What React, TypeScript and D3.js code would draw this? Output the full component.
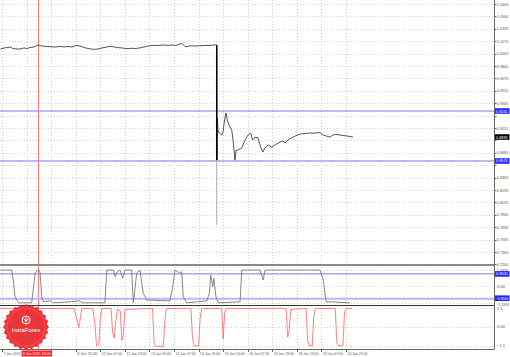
import React from 'react';
import * as d3 from 'd3';

const W = 510;
const H = 357;

// ---- data ----
const priceTicks = [1.0665, 1.05, 1.0335, 1.017, 1.0005, 0.984, 0.9675, 0.951, 0.9345, 0.918, 0.9015, 0.885, 0.8685, 0.852, 0.8355, 0.819, 0.8025, 0.786, 0.7695, 0.753, 0.7365, 0.72];
const timeTickBars = [1, 17, 33, 49, 65, 81, 97, 113, 129, 145, 161, 177, 193, 209, 225];
const timeLabels = ['7 Jan 2015', '8 Jan 07:00', '8 Jan 23:00', '9 Jan 15:00', '12 Jan 07:00', '12 Jan 23:00', '13 Jan 15:00', '14 Jan 07:00', '14 Jan 23:00', '15 Jan 15:00', '16 Jan 07:00', '16 Jan 23:00', '19 Jan 15:00', '20 Jan 07:00', '20 Jan 23:00'];

// close price line [bar, price]
const priceSeries: [number, number][] = [
  [0, 1.0066], [2.3, 1.008], [4.9, 1.0086], [6.2, 1.0093], [8.1, 1.0073], [10.7, 1.0066], [12.7, 1.0066], [15.3, 1.008], [17.3, 1.0073], [19.2, 1.0086], [21.8, 1.0093], [24.4, 1.012], [27.0, 1.0106], [29.6, 1.01], [32.2, 1.0097], [35.5, 1.0093], [38.7, 1.01], [41.4, 1.0093], [43.3, 1.01], [46.6, 1.0093], [49.2, 1.0113], [51.8, 1.0106], [54.4, 1.0086], [57.0, 1.0073], [60.2, 1.0062], [63.5, 1.0066], [66.1, 1.008], [69.4, 1.0093], [71.3, 1.0102], [73.3, 1.0097], [75.9, 1.0086], [79.1, 1.008], [82.4, 1.007], [85.0, 1.0076], [87.6, 1.0073], [90.8, 1.008], [93.4, 1.0093], [96.1, 1.0106], [99.3, 1.0115], [102.6, 1.0113], [105.8, 1.012], [109.1, 1.0115], [111.7, 1.012], [114.3, 1.0113], [116.9, 1.0133], [118.2, 1.0139], [120.1, 1.01], [121.4, 1.0097], [123.4, 1.0109], [126.7, 1.0106], [129.9, 1.0109], [133.2, 1.0113], [136.4, 1.0115], [139.7, 1.012], [140.7, 1.012],
  [141.0, 0.8589], [141.2, 0.9148], [141.6, 0.8988], [142.5, 0.8948], [144.1, 0.8922], [144.9, 0.8962], [145.9, 0.9121], [146.8, 0.9215], [147.7, 0.9121], [148.8, 0.9055], [149.8, 0.9015], [150.6, 0.8988], [151.4, 0.8855], [152.7, 0.8589], [153.4, 0.8722], [154.7, 0.8722], [157.1, 0.8749], [159.2, 0.8855], [161.2, 0.8922], [162.9, 0.8948], [164.2, 0.8855], [165.7, 0.8895], [167.7, 0.8882], [169.4, 0.8762], [170.9, 0.8696], [172.2, 0.8749], [174.2, 0.8789], [176.6, 0.8762], [178.8, 0.8789], [182.0, 0.8829], [184.0, 0.8842], [185.3, 0.8815], [187.2, 0.8855], [190.5, 0.8895], [195.0, 0.8935], [198.3, 0.8942], [201.5, 0.8948], [204.8, 0.8948], [208.1, 0.8953], [210.0, 0.8922], [212.0, 0.8909], [214.6, 0.8895], [216.5, 0.8922], [218.5, 0.8929], [221.1, 0.8922], [223.0, 0.8915], [225.4, 0.8909], [227.6, 0.8902], [229.5, 0.8895],
];
const crashBar = 140.8;
const crashLow = 0.7724;
const crashBottom = 0.8589;
const crashTop = 1.012;
const levelHigh = 0.9241;
const levelLow = 0.8576;
const lastPrice = 0.8895;
const cursorBar = 24.4;
const cursorLabel = '8 Jan 2015 15:00';

// indicator 1 [bar, value]
const ind1Series: [number, number][] = [
  [0, 1.18], [7.3, 1.18], [8.3, 0.46], [9.4, -0.75], [11.6, -1.19], [20.3, -1.19], [22.5, 0.94], [24.0, 1.18], [25.7, 1.06], [26.8, -0.75], [27.9, -1.12], [32.2, -1.05], [34.4, -1.19], [42.0, -1.14], [51.8, -1.05], [52.9, -1.19], [68.0, -1.19], [69.2, 1.18], [73.5, 1.18], [74.6, 0.7], [76.1, 1.06], [77.8, 1.18], [79.6, 0.58], [81.1, 1.18], [85.4, 1.18], [86.5, -1.19], [88.7, 0.94], [90.8, 1.18], [93.0, -0.51], [95.2, -0.99], [110.4, -1.05], [112.5, 0.22], [113.6, 1.18], [116.9, 0.94], [118.0, 1.06], [119.0, -0.75], [121.3, -1.19], [134.3, -1.05], [136.0, -0.51], [136.9, 0.82], [138.2, -0.03], [139.0, 0.58], [140.3, -0.75], [141.8, -1.19], [156.0, -1.12], [157.1, 1.18], [169.0, 1.18], [171.1, 0.46], [172.2, 1.18], [208.1, 1.18], [210.2, 0.46], [212.0, -1.12], [216.7, -1.12], [221.1, -1.16], [227.6, -1.19],
];
const ind1Ticks = [1.1836, 0, -1.1836];
const ind1Levels = [0.9, -0.9];

// indicator 2 [bar, value]
const ind2Series: [number, number][] = [
  [0, 1.06], [20, 1.05], [48, 1.06], [50, 0.3], [51, -0.05], [52, 0.5], [53, 1.05],
  [60, 1.06], [61.5, 0.2], [62.5, -1.1], [64, -1.05], [65, 0.4], [66, 1.05],
  [72, 1.06], [73, -0.3], [74, -0.65], [75, 0.2], [76, 1.0], [78, 0.9], [79, -0.8], [80, -0.5], [81, 1.0],
  [99, 1.06], [100, -0.9], [101, -1.15], [104, -1.12], [106, -1.15], [107, 0.3], [108, 1.05],
  [124, 1.06], [125, -0.6], [126, -1.1], [129, -1.12], [130, 0.5], [131, 1.05],
  [144, 1.06], [145, -0.7], [146, 0.8], [147, 1.05],
  [186, 1.06], [187, -0.6], [188, -0.2], [189, 1.0],
  [199, 1.06], [200, -0.8], [201, -1.1], [203, -1.1], [204, 0.6], [205, 1.05],
  [218, 1.06], [219, -0.9], [220, -1.1], [223, -1.1], [224, 0.8], [225, 1.05], [229, 1.06],
];
const ind2Ticks = [1.1, 0, -1.1];

// ---- layout ----
const AX = 494.5;
const MAIN_BOTTOM = 264;
const P1_TOP = 266;
const P1_BOTTOM = 305;
const P2_TOP = 306;
const P2_BOTTOM = 349;

const fmt4 = d3.format('.4f');
const FONT = 'Liberation Sans, Arial, sans-serif';
const FS = 4.2;

export default function App() {
  const x = d3.scaleLinear().domain([0, 320]).range([0.5, 0.5 + 320 * 1.5357]);
  const yMain = d3.scaleLinear().domain([0.72, 1.0665]).range([264.4, 4]);
  const y1 = d3.scaleLinear().domain([-1.1836, 1.1836]).range([302.7, 270]);
  const y2 = d3.scaleLinear().domain([-1.1, 1.1]).range([345.7, 307.7]);

  const lineMain = d3.line<[number, number]>().x(d => x(d[0])).y(d => yMain(d[1]));
  const line1 = d3.line<[number, number]>().x(d => x(d[0])).y(d => y1(d[1]));
  const line2 = d3.line<[number, number]>().x(d => x(d[0])).y(d => y2(d[1]));

  const gridColor = '#d2d2d2';
  const dash = '1,2';

  const cx = 26, cy = 327;
  const sealPts: [number, number][] = d3.range(48).map(i => {
    const a = (i / 48) * Math.PI * 2;
    const r = i % 2 === 0 ? 23 : 21;
    return [cx + r * Math.cos(a), cy + r * Math.sin(a)];
  });

  const lenFor = (s: string) => (s.length > 6 ? 12 : s.length > 4 ? 11.5 : undefined);

  const axText = (key: string, y: number, s: string, fill = '#555') => (
    <text key={key} x={AX + 2.3} y={y + 1.5} fontSize={FS} fill={fill} fontFamily={FONT} textLength={lenFor(s)} lengthAdjust="spacingAndGlyphs">{s}</text>
  );

  const boxLabel = (key: string, y: number, s: string, fill: string) => (
    <g key={key}>
      <rect x={AX + 0.5} y={y - 2.8} width={14.5} height={5.6} fill={fill} />
      <text x={AX + 1.6} y={y + 1.5} fontSize={FS} fill="#fff" fontFamily={FONT} textLength={lenFor(s)} lengthAdjust="spacingAndGlyphs">{s}</text>
    </g>
  );

  const cursorX = x(cursorBar);
  const boxL = cursorX - 16.5;
  const boxR = cursorX + 14;

  return (
    <svg width={W} height={H} style={{ position: 'absolute', left: 0, top: 0, background: '#fff' }}>
      <rect x={0} y={0} width={W} height={H} fill="#fff" />
      <defs>
        <clipPath id="cm"><rect x={0} y={0} width={AX} height={MAIN_BOTTOM} /></clipPath>
        <clipPath id="c1"><rect x={0} y={P1_TOP} width={AX} height={P1_BOTTOM - P1_TOP} /></clipPath>
        <clipPath id="c2"><rect x={0} y={P2_TOP} width={AX} height={P2_BOTTOM - P2_TOP} /></clipPath>
      </defs>

      {timeTickBars.map((b, i) => (
        <line key={'vg' + i} x1={Math.round(x(b)) + 0.5} x2={Math.round(x(b)) + 0.5} y1={0} y2={P2_BOTTOM} stroke={gridColor} strokeDasharray={dash} />
      ))}
      {priceTicks.map((t, i) => (
        <line key={'hg' + i} x1={0} x2={AX} y1={Math.round(yMain(t)) + 0.5} y2={Math.round(yMain(t)) + 0.5} stroke={gridColor} strokeDasharray={dash} />
      ))}
      {ind1Ticks.map((t, i) => (
        <line key={'g1' + i} x1={0} x2={AX} y1={Math.round(y1(t)) + 0.5} y2={Math.round(y1(t)) + 0.5} stroke={gridColor} strokeDasharray={dash} />
      ))}
      {ind2Ticks.map((t, i) => (
        <line key={'g2' + i} x1={0} x2={AX} y1={Math.round(y2(t)) + 0.5} y2={Math.round(y2(t)) + 0.5} stroke={gridColor} strokeDasharray={dash} />
      ))}

      <line x1={Math.round(cursorX) + 0.5} x2={Math.round(cursorX) + 0.5} y1={0} y2={P2_BOTTOM} stroke="#ff7a7a" strokeWidth={1} />

      <g clipPath="url(#cm)">
        <line x1={0} x2={AX} y1={yMain(levelHigh)} y2={yMain(levelHigh)} stroke="#7a7ae6" strokeWidth={1} />
        <line x1={0} x2={AX} y1={yMain(levelLow)} y2={yMain(levelLow)} stroke="#7a7ae6" strokeWidth={1} />
        <line x1={x(crashBar)} x2={x(crashBar)} y1={yMain(crashBottom)} y2={yMain(crashLow)} stroke="#888" strokeWidth={0.7} />
        <path d={lineMain(priceSeries) || ''} fill="none" stroke="#2a2a2a" strokeWidth={0.8} strokeLinejoin="round" />
        <line x1={x(crashBar)} x2={x(crashBar)} y1={yMain(crashTop)} y2={yMain(crashBottom)} stroke="#000" strokeWidth={1.5} />
      </g>

      <line x1={0} x2={AX} y1={265} y2={265} stroke="#8a8a8a" strokeWidth={2} />
      <line x1={0} x2={AX} y1={305.5} y2={305.5} stroke="#333" strokeWidth={1} />

      <g clipPath="url(#c1)">
        <line x1={0} x2={AX} y1={y1(ind1Levels[0])} y2={y1(ind1Levels[0])} stroke="#7a7ae6" strokeWidth={1} />
        <line x1={0} x2={AX} y1={y1(ind1Levels[1])} y2={y1(ind1Levels[1])} stroke="#b8b8f4" strokeWidth={2} />
        <path d={line1(ind1Series) || ''} fill="none" stroke="#6a6a6a" strokeWidth={0.8} />
      </g>

      <g clipPath="url(#c2)">
        <path d={line2(ind2Series) || ''} fill="none" stroke="#ff6060" strokeWidth={0.8} />
      </g>

      <line x1={AX} x2={AX} y1={0} y2={P2_BOTTOM} stroke="#666" strokeWidth={1} />
      <line x1={0} x2={AX} y1={P2_BOTTOM + 0.5} y2={P2_BOTTOM + 0.5} stroke="#666" strokeWidth={1} />

      {priceTicks.map((t, i) => {
        const yy = yMain(t);
        const hidden = [levelHigh, levelLow, lastPrice].some(v => Math.abs(yMain(v) - yy) < 5.2);
        return (
          <g key={'pt' + i}>
            <line x1={AX} x2={AX + 2} y1={Math.round(yy) + 0.5} y2={Math.round(yy) + 0.5} stroke="#666" />
            {!hidden && axText('ptt' + i, yy, fmt4(t))}
          </g>
        );
      })}
      {boxLabel('bh', yMain(levelHigh), fmt4(levelHigh), '#2424ff')}
      {boxLabel('bl', yMain(levelLow), fmt4(levelLow), '#2424ff')}
      {boxLabel('bp', yMain(lastPrice), fmt4(lastPrice), '#000')}

      {ind1Ticks.map((t, i) => axText('l1' + i, y1(t) + (i === 2 ? 1.3 : 0), t === 0 ? '0.00' : fmt4(t)))}
      {ind1Levels.map((t, i) => boxLabel('lv1' + i, y1(t) - (i === 1 ? 0.6 : 0), fmt4(t), '#2424ff'))}
      {ind2Ticks.map((t, i) => axText('l2' + i, y2(t) + (i === 0 ? 0.6 : 0), t === 0 ? '0.00' : d3.format('.1f')(t)))}

      {timeTickBars.map((b, i) => {
        const tx = x(b);
        const covered = tx > boxL && tx < boxR;
        return (
          <g key={'tl' + i}>
            <line x1={Math.round(tx) + 0.5} x2={Math.round(tx) + 0.5} y1={P2_BOTTOM} y2={P2_BOTTOM + 3} stroke="#666" />
            {!covered && (
              <text x={tx + 1.5} y={355} fontSize={FS} fill="#555" fontFamily={FONT} textLength={timeLabels[i].length > 10 ? 20 : 17} lengthAdjust="spacingAndGlyphs">{timeLabels[i]}</text>
            )}
          </g>
        );
      })}
      <rect x={boxL} y={350.5} width={boxR - boxL} height={6} fill="#ff2020" />
      <text x={boxL + 1.2} y={355.3} fontSize={FS} fill="#fff" fontFamily={FONT} textLength={boxR - boxL - 2.4} lengthAdjust="spacingAndGlyphs">{cursorLabel}</text>

      <polygon points={sealPts.map(p => p.join(',')).join(' ')} fill="#e8242a" opacity={0.92} />
      <circle cx={cx} cy={cy} r={19} fill="none" stroke="#ff6a6a" strokeWidth={0.6} />
      <g transform={`translate(${cx},${cy - 7})`}>
        <circle cx={0} cy={0} r={4} fill="none" stroke="#fff" strokeWidth={1} />
        <path d="M0,-3 L0,4 M-2.5,-1 L0,1 L2.5,-1" stroke="#fff" strokeWidth={1} fill="none" />
      </g>
      <text x={cx} y={cy + 5} fontSize={6} fill="#fff" textAnchor="middle" fontFamily={FONT}>InstaForex</text>
    </svg>
  );
}
